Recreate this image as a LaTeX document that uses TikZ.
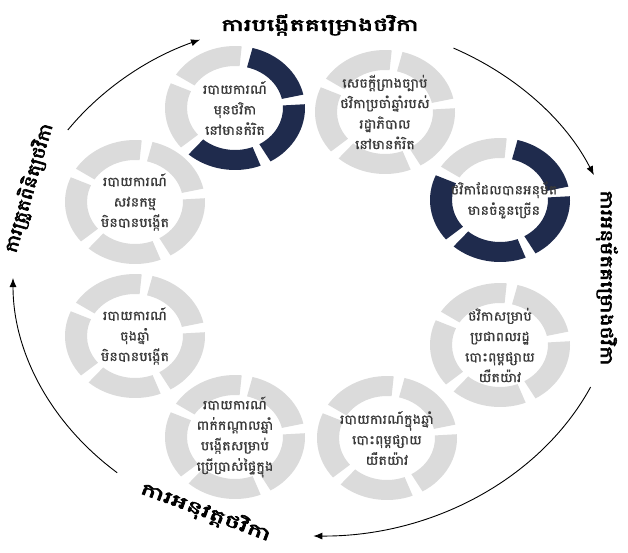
\documentclass[tikz,border=0pt]{standalone}
\usepackage{fontspec}
\usepackage{graphicx}
\newfontfamily\kmfont[Script=Khmer,FakeBold=0.7]{Battambang}
\newfontfamily\kmbold[Script=Khmer,FakeBold=3]{Battambang}
\usetikzlibrary{arrows.meta,calc}
\definecolor{navy}{HTML}{1F2B4D}
\definecolor{ringgray}{HTML}{DBDBDB}
\definecolor{txtgray}{HTML}{3A3A3A}
\tikzset{
  ringtext/.style={align=center, font=\kmfont\fontsize{13}{20.5}\selectfont, text=txtgray, inner sep=0pt, xscale=1.1},
  stagelabel/.style={font=\kmbold\fontsize{17}{19}\selectfont, text=black, inner sep=0pt},
  cycarrow/.style={line width=0.9pt, -{Latex[length=9pt,width=7pt]}},
}
% center, a1, a2, colour
\newcommand\rseg[4]{%
  \fill[#4] ($(#1)+({70*cos(#2)},{-62*sin(#2)})$)
    arc[start angle={-1*(#2)}, end angle={-1*(#3)}, x radius=70, y radius=62]
    -- ($(#1)+({48*cos(#3)},{-42*sin(#3)})$)
    arc[start angle={-1*(#3)}, end angle={-1*(#2)}, x radius=48, y radius=42] -- cycle;}
% center, colours of segments A..E
\newcommand\ringof[6]{%
  \rseg{#1}{12.5}{75.5}{#2}%
  \rseg{#1}{84.5}{147.5}{#3}%
  \rseg{#1}{156.5}{219.5}{#4}%
  \rseg{#1}{228.5}{291.5}{#5}%
  \rseg{#1}{300.5}{363.5}{#6}}
\begin{document}
\begin{tikzpicture}[x=1pt,y=-1pt]
\useasboundingbox (0,0) rectangle (628,552);
\fill[white] (0,0) rectangle (628,552);
% rings
\coordinate (k1) at (235,108);
\coordinate (k2) at (385,112);
\coordinate (k3) at (500,200);
\coordinate (k4) at (500,345);
\coordinate (k5) at (387,438);
\coordinate (k6) at (235,437);
\coordinate (k7) at (135,336);
\coordinate (k8) at (135,202);
\ringof{k1}{navy}{ringgray}{ringgray}{navy}{navy}
\ringof{k2}{ringgray}{ringgray}{ringgray}{ringgray}{ringgray}
\ringof{k3}{navy}{ringgray}{navy}{navy}{navy}
\ringof{k4}{ringgray}{ringgray}{ringgray}{ringgray}{ringgray}
\ringof{k5}{ringgray}{ringgray}{ringgray}{ringgray}{ringgray}
\ringof{k6}{ringgray}{ringgray}{ringgray}{ringgray}{ringgray}
\ringof{k7}{ringgray}{ringgray}{ringgray}{ringgray}{ringgray}
\ringof{k8}{ringgray}{ringgray}{ringgray}{ringgray}{ringgray}
% texts
\node[ringtext] (c1) at (k1) {របាយការណ៍\\មុនថវិកា\\នៅមានកំរិត};
\node[ringtext] (c2) at (k2) {សេចក្តីព្រាងច្បាប់\\ថវិកាប្រចាំឆ្នាំរបស់\\រដ្ឋាភិបាល\\នៅមានកំរិត};
\node[ringtext] (c3) at ($(k3)+(4,0)$) {ថវិកាដែលបានអនុម័ត\\មានចំនួនច្រើន};
\node[ringtext] (c4) at (k4) {ថវិកាសម្រាប់\\ប្រជាពលរដ្ឋ\\បោះពុម្ពផ្សាយ\\យឺតយ៉ាវ};
\node[ringtext] (c5) at (k5) {របាយការណ៍ក្នុងឆ្នាំ\\បោះពុម្ពផ្សាយ\\យឺតយ៉ាវ};
\node[ringtext] (c6) at (k6) {របាយការណ៍\\ពាក់កណ្តាលឆ្នាំ\\បង្កើតសម្រាប់\\ប្រើប្រាស់ផ្ទៃក្នុង};
\node[ringtext] (c7) at (k7) {របាយការណ៍\\ចុងឆ្នាំ\\មិនបានបង្កើត};
\node[ringtext] (c8) at (k8) {របាយការណ៍\\សវនកម្ម\\មិនបានបង្កើត};
% stage labels
\node[stagelabel] (sTop) at (320,25) {\scalebox{1.5}[1]{ការបង្កើតគម្រោងថវិកា}};
\node[stagelabel, rotate=-90] (sRight) at (607,278) {\scalebox{1.28}[1]{ការអនុម័តគម្រោងថវិកា}};
\node[stagelabel, rotate=-20.5] (sBottom) at (206,512) {\scalebox{1.6}[1]{ការអនុវត្តថវិកា}};
\node[stagelabel, rotate=74] (sLeft) at (29,188) {\scalebox{1.2}[1]{ការត្រួតពិនិត្យថវិកា}};
% cycle arrows
\coordinate (O) at (316,278);
\coordinate (a1) at ($(O)+({303*cos(145)},{-258*sin(145)})$);
\coordinate (a2) at ($(O)+({303*cos(63)},{-258*sin(63)})$);
\coordinate (a3) at ($(O)+({303*cos(-25)},{-258*sin(-25)})$);
\coordinate (a4) at ($(O)+({303*cos(229)},{-258*sin(229)})$);
\draw[cycarrow] (a1) arc[start angle=-145, end angle=-112.5, x radius=303, y radius=258];
\draw[cycarrow] (a2) arc[start angle=-63, end angle=-23.5, x radius=303, y radius=258];
\draw[cycarrow] (a3) arc[start angle=25, end angle=90.5, x radius=303, y radius=258];
\draw[cycarrow] (a4) arc[start angle=-229, end angle=-180, x radius=303, y radius=258];
\end{tikzpicture}
\end{document}
